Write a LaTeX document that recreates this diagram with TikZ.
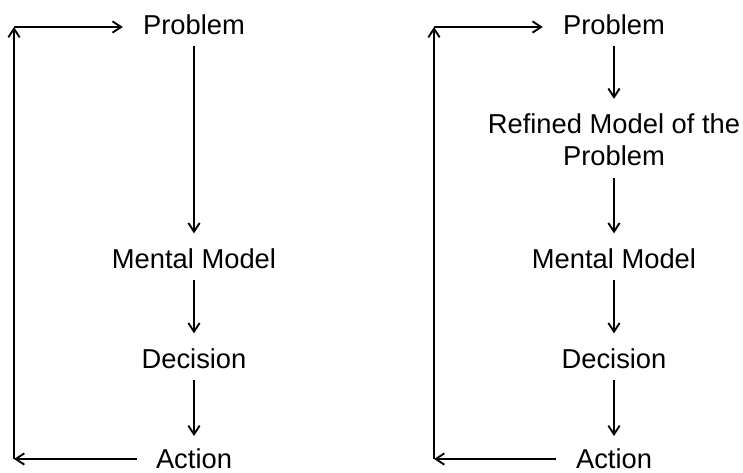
\documentclass[tikz,border=0pt]{standalone}
\usepackage{fontspec}
\setmainfont{Liberation Sans}
\usetikzlibrary{arrows.meta}
\begin{document}
\begin{tikzpicture}[x=0.75pt,y=-0.75pt,
  label/.style={font=\fontsize{20.5pt}{24pt}\selectfont, inner sep=0pt,
                text height=14.8pt, text depth=0pt, anchor=base},
  multilabel/.style={font=\fontsize{20.5pt}{24pt}\selectfont, inner sep=0pt,
                align=center, anchor=north},
  flow/.style={line width=1.4pt, -{Straight Barb[length=6.5pt,width=8.5pt]},
               shorten <=9pt, shorten >=11pt},
  loop/.style={line width=1.4pt, -{Straight Barb[length=6.5pt,width=8.5pt]}}]
\useasboundingbox (0,0) rectangle (743,472);

% ---- left cycle ----
\node[label] (p1) at (194,34) {Problem};
\node[label] (m1) at (194,268) {Mental Model};
\node[label] (d1) at (194,368) {Decision};
\node[label] (a1) at (194,468) {Action};
\coordinate (tl1) at (14,27);
\coordinate (bl1) at (14,459);

\draw[flow] (p1) -- (m1);
\draw[flow] (m1) -- (d1);
\draw[flow, shorten >=9pt] (d1) -- (a1);
\draw[loop, shorten <=14pt] (bl1 -| a1.west) -- (bl1);
\draw[loop] (bl1) -- (tl1);
\draw[loop, shorten >=15pt] (tl1) -- (tl1 -| p1.west);

% ---- right cycle ----
\node[label] (p2) at (614,34) {Problem};
\node[multilabel] (r2) at (614,113.5) {Refined Model of the\\Problem};
\node[label] (m2) at (614,268) {Mental Model};
\node[label] (d2) at (614,368) {Decision};
\node[label] (a2) at (614,468) {Action};
\coordinate (tl2) at (434,27);
\coordinate (bl2) at (434,459);

\draw[flow] (p2) -- (r2);
\draw[flow] (r2) -- (m2);
\draw[flow] (m2) -- (d2);
\draw[flow, shorten >=9pt] (d2) -- (a2);
\draw[loop, shorten <=15pt] (bl2 -| a2.west) -- (bl2);
\draw[loop] (bl2) -- (tl2);
\draw[loop, shorten >=15pt] (tl2) -- (tl2 -| p2.west);
\end{tikzpicture}
\end{document}
